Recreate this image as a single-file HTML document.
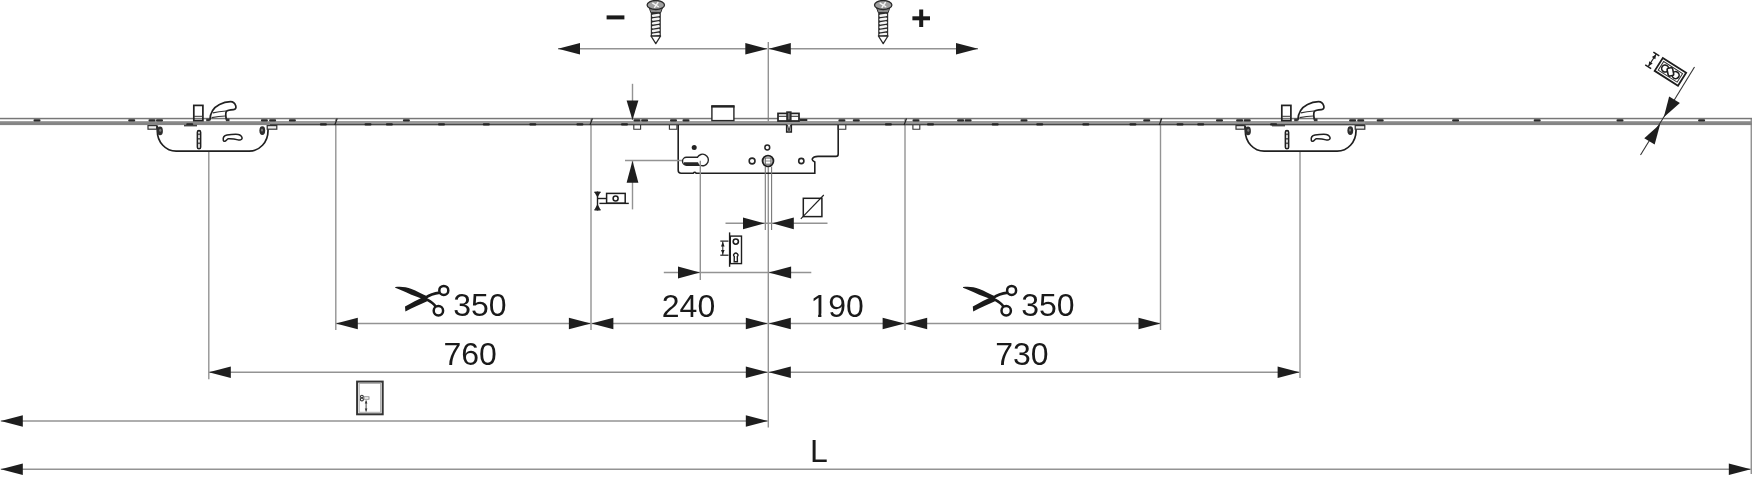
<!DOCTYPE html>
<html><head><meta charset="utf-8"><style>
html,body{margin:0;padding:0;background:#fff;}
text{will-change:transform;}
body{width:1752px;height:480px;overflow:hidden;}
svg{display:block;}
</style></head><body>
<svg width="1752" height="480" viewBox="0 0 1752 480">
<rect width="1752" height="480" fill="#fff"/>
<line x1="558" y1="48.8" x2="767.3" y2="48.8" stroke="#939393" stroke-width="1.45"/>
<polygon points="558.00,48.80 580.00,43.00 580.00,54.60" fill="#1e1e1e"/>
<polygon points="767.30,48.80 745.30,54.60 745.30,43.00" fill="#1e1e1e"/>
<line x1="768.8" y1="48.8" x2="978" y2="48.8" stroke="#939393" stroke-width="1.45"/>
<polygon points="768.80,48.80 790.80,43.00 790.80,54.60" fill="#1e1e1e"/>
<polygon points="978.00,48.80 956.00,54.60 956.00,43.00" fill="#1e1e1e"/>
<line x1="335.8" y1="323.5" x2="590.9" y2="323.5" stroke="#939393" stroke-width="1.45"/>
<polygon points="335.80,323.50 357.80,317.70 357.80,329.30" fill="#1e1e1e"/>
<polygon points="590.90,323.50 568.90,329.30 568.90,317.70" fill="#1e1e1e"/>
<line x1="591.4" y1="323.5" x2="767.8" y2="323.5" stroke="#939393" stroke-width="1.45"/>
<polygon points="591.40,323.50 613.40,317.70 613.40,329.30" fill="#1e1e1e"/>
<polygon points="767.80,323.50 745.80,329.30 745.80,317.70" fill="#1e1e1e"/>
<line x1="768.8" y1="323.5" x2="904.6" y2="323.5" stroke="#939393" stroke-width="1.45"/>
<polygon points="768.80,323.50 790.80,317.70 790.80,329.30" fill="#1e1e1e"/>
<polygon points="904.60,323.50 882.60,329.30 882.60,317.70" fill="#1e1e1e"/>
<line x1="905.2" y1="323.5" x2="1160.5" y2="323.5" stroke="#939393" stroke-width="1.45"/>
<polygon points="905.20,323.50 927.20,317.70 927.20,329.30" fill="#1e1e1e"/>
<polygon points="1160.50,323.50 1138.50,329.30 1138.50,317.70" fill="#1e1e1e"/>
<line x1="208.8" y1="372.2" x2="767.8" y2="372.2" stroke="#939393" stroke-width="1.45"/>
<polygon points="208.80,372.20 230.80,366.40 230.80,378.00" fill="#1e1e1e"/>
<polygon points="767.80,372.20 745.80,378.00 745.80,366.40" fill="#1e1e1e"/>
<line x1="768.8" y1="372.2" x2="1299.6" y2="372.2" stroke="#939393" stroke-width="1.45"/>
<polygon points="768.80,372.20 790.80,366.40 790.80,378.00" fill="#1e1e1e"/>
<polygon points="1299.60,372.20 1277.60,378.00 1277.60,366.40" fill="#1e1e1e"/>
<line x1="0.8" y1="421" x2="767.8" y2="421" stroke="#939393" stroke-width="1.45"/>
<polygon points="0.80,421.00 22.80,415.20 22.80,426.80" fill="#1e1e1e"/>
<polygon points="767.80,421.00 745.80,426.80 745.80,415.20" fill="#1e1e1e"/>
<line x1="0.8" y1="469.2" x2="1750.8" y2="469.2" stroke="#939393" stroke-width="1.45"/>
<polygon points="0.80,469.20 22.80,463.40 22.80,475.00" fill="#1e1e1e"/>
<polygon points="1750.80,469.20 1728.80,475.00 1728.80,463.40" fill="#1e1e1e"/>
<line x1="768.3" y1="41.9" x2="768.3" y2="125" stroke="#939393" stroke-width="1.4"/>
<line x1="768.3" y1="166" x2="768.3" y2="427.5" stroke="#939393" stroke-width="1.4"/>
<line x1="335.8" y1="119" x2="335.8" y2="330" stroke="#939393" stroke-width="1.4"/>
<line x1="591.0" y1="119" x2="591.0" y2="330" stroke="#939393" stroke-width="1.4"/>
<line x1="905.0" y1="119" x2="905.0" y2="330" stroke="#939393" stroke-width="1.4"/>
<line x1="1160.5" y1="119" x2="1160.5" y2="330" stroke="#939393" stroke-width="1.4"/>
<line x1="208.8" y1="151" x2="208.8" y2="379.3" stroke="#939393" stroke-width="1.4"/>
<line x1="1300.0" y1="151" x2="1300.0" y2="378" stroke="#939393" stroke-width="1.4"/>
<line x1="1751.3" y1="119" x2="1751.3" y2="474" stroke="#939393" stroke-width="1.5"/>
<rect x="0" y="117.8" width="1752" height="1.5" fill="#777"/>
<rect x="0" y="121.2" width="1752" height="3.9" fill="#8a8a8a"/>
<rect x="270" y="121.2" width="1095" height="2.7" fill="#9a9a9a"/>
<rect x="270" y="123.9" width="1095" height="1.4" fill="#4a4a4a"/>
<rect x="0" y="123.6" width="270" height="0.8" fill="#7a7a7a"/><rect x="1365" y="123.6" width="387" height="0.8" fill="#7a7a7a"/>
<rect x="33.5" y="119.2" width="7" height="2.4" rx="1" fill="#2a2a2a"/>
<rect x="128.2" y="119.2" width="7" height="2.4" rx="1" fill="#2a2a2a"/>
<rect x="148.5" y="119.2" width="7" height="2.4" rx="1" fill="#2a2a2a"/>
<rect x="156.0" y="119.2" width="7" height="2.4" rx="1" fill="#2a2a2a"/>
<rect x="260.9" y="119.2" width="7" height="2.4" rx="1" fill="#2a2a2a"/>
<rect x="269.1" y="119.2" width="7" height="2.4" rx="1" fill="#2a2a2a"/>
<rect x="288.9" y="119.2" width="7" height="2.4" rx="1" fill="#2a2a2a"/>
<rect x="402.9" y="119.2" width="7" height="2.4" rx="1" fill="#2a2a2a"/>
<rect x="633.5" y="119.2" width="7" height="2.4" rx="1" fill="#2a2a2a"/>
<rect x="641.1" y="119.2" width="7" height="2.4" rx="1" fill="#2a2a2a"/>
<rect x="670.0" y="119.2" width="7" height="2.4" rx="1" fill="#2a2a2a"/>
<rect x="682.5" y="119.2" width="7" height="2.4" rx="1" fill="#2a2a2a"/>
<rect x="838.4" y="119.2" width="7" height="2.4" rx="1" fill="#2a2a2a"/>
<rect x="852.8" y="119.2" width="7" height="2.4" rx="1" fill="#2a2a2a"/>
<rect x="912.5" y="119.2" width="7" height="2.4" rx="1" fill="#2a2a2a"/>
<rect x="957.1" y="119.2" width="7" height="2.4" rx="1" fill="#2a2a2a"/>
<rect x="964.6" y="119.2" width="7" height="2.4" rx="1" fill="#2a2a2a"/>
<rect x="1020.5" y="119.2" width="7" height="2.4" rx="1" fill="#2a2a2a"/>
<rect x="1143.2" y="119.2" width="7" height="2.4" rx="1" fill="#2a2a2a"/>
<rect x="1216.0" y="119.2" width="7" height="2.4" rx="1" fill="#2a2a2a"/>
<rect x="1236.1" y="119.2" width="7" height="2.4" rx="1" fill="#2a2a2a"/>
<rect x="1243.7" y="119.2" width="7" height="2.4" rx="1" fill="#2a2a2a"/>
<rect x="1349.1" y="119.2" width="7" height="2.4" rx="1" fill="#2a2a2a"/>
<rect x="1357.2" y="119.2" width="7" height="2.4" rx="1" fill="#2a2a2a"/>
<rect x="1376.7" y="119.2" width="7" height="2.4" rx="1" fill="#2a2a2a"/>
<rect x="1452.1" y="119.2" width="7" height="2.4" rx="1" fill="#2a2a2a"/>
<rect x="1533.7" y="119.2" width="7" height="2.4" rx="1" fill="#2a2a2a"/>
<rect x="1616.5" y="119.2" width="7" height="2.4" rx="1" fill="#2a2a2a"/>
<rect x="1698.1" y="119.2" width="7" height="2.4" rx="1" fill="#2a2a2a"/>
<rect x="186.2" y="123.3" width="7" height="2.2" rx="1" fill="#222"/>
<rect x="319.9" y="123.3" width="7" height="2.2" rx="1" fill="#222"/>
<rect x="364.5" y="123.3" width="7" height="2.2" rx="1" fill="#222"/>
<rect x="385.9" y="123.3" width="7" height="2.2" rx="1" fill="#222"/>
<rect x="438.0" y="123.3" width="7" height="2.2" rx="1" fill="#222"/>
<rect x="482.8" y="123.3" width="7" height="2.2" rx="1" fill="#222"/>
<rect x="529.3" y="123.3" width="7" height="2.2" rx="1" fill="#222"/>
<rect x="576.4" y="123.3" width="7" height="2.2" rx="1" fill="#222"/>
<rect x="621.0" y="123.3" width="7" height="2.2" rx="1" fill="#222"/>
<rect x="884.9" y="123.3" width="7" height="2.2" rx="1" fill="#222"/>
<rect x="927.0" y="123.3" width="7" height="2.2" rx="1" fill="#222"/>
<rect x="991.7" y="123.3" width="7" height="2.2" rx="1" fill="#222"/>
<rect x="1036.2" y="123.3" width="7" height="2.2" rx="1" fill="#222"/>
<rect x="1082.3" y="123.3" width="7" height="2.2" rx="1" fill="#222"/>
<rect x="1129.4" y="123.3" width="7" height="2.2" rx="1" fill="#222"/>
<rect x="1176.5" y="123.3" width="7" height="2.2" rx="1" fill="#222"/>
<rect x="1197.2" y="123.3" width="7" height="2.2" rx="1" fill="#222"/>
<rect x="1270.1" y="123.3" width="7" height="2.2" rx="1" fill="#222"/>
<line x1="334.8" y1="125" x2="337.2" y2="118.5" stroke="#222" stroke-width="1.2"/>
<line x1="590.0" y1="125" x2="592.4000000000001" y2="118.5" stroke="#222" stroke-width="1.2"/>
<line x1="904.0999999999999" y1="125" x2="906.5" y2="118.5" stroke="#222" stroke-width="1.2"/>
<line x1="1159.3" y1="125" x2="1161.7" y2="118.5" stroke="#222" stroke-width="1.2"/>
<g><path d="M157.3,125.5 L157.3,131 A18.8,20.2 0 0 0 176.1,151.2 L249.2,151.2 A18.8,20.2 0 0 0 268,131 L268,125.5" fill="none" stroke="#202020" stroke-width="1.7"/><rect x="148" y="125.6" width="8.6" height="3.6" fill="#eee" stroke="#333" stroke-width="1.2"/><rect x="267.2" y="125.6" width="9.6" height="3.6" fill="#eee" stroke="#333" stroke-width="1.2"/><ellipse cx="160" cy="130.9" rx="2.9" ry="4.4" fill="#2e2e2e"/><ellipse cx="160.3" cy="130.2" rx="1.1" ry="1.5" fill="#777"/><ellipse cx="262.3" cy="130.6" rx="2.9" ry="4.4" fill="#2e2e2e"/><ellipse cx="262" cy="130" rx="1.1" ry="1.5" fill="#777"/><rect x="193.8" y="105.4" width="9.1" height="15.2" fill="none" stroke="#202020" stroke-width="1.7"/><line x1="193.8" y1="116.3" x2="202.9" y2="116.3" stroke="#333" stroke-width="1"/><path d="M209.8,120.4 C210,113 213.5,107.5 219.5,104.5 C223,102.6 227,101.7 230.5,101.7 C233.5,101.7 235,103.5 235.8,106 C236.3,108 235.5,109.4 233.5,109.6 C230,109.9 227.5,110.2 226.3,111.3 C225.5,113 225.8,117 226.6,120.4" fill="none" stroke="#202020" stroke-width="1.7"/><path d="M212.9,112.9 C217,111.8 222,111.2 226,111" fill="none" stroke="#333" stroke-width="1.1"/><path d="M211.6,117.6 C216,116.8 221,116.2 225.4,116" fill="none" stroke="#333" stroke-width="1.1"/><rect x="206.2" y="118.6" width="3.5" height="2.6" fill="#333"/><rect x="226" y="118.6" width="3.5" height="2.6" fill="#333"/><rect x="184" y="124.8" width="13" height="1.6" fill="#444"/><rect x="197.4" y="130.6" width="3.2" height="18.2" rx="1.6" fill="#fff" stroke="#202020" stroke-width="1.6"/><rect x="198.2" y="133.5" width="1.6" height="1.6" fill="#333"/><rect x="198.2" y="138" width="1.6" height="1.6" fill="#333"/><rect x="198.2" y="142.5" width="1.6" height="1.6" fill="#333"/><path d="M223.3,140.3 C222.9,138 224,135.6 227,135 C231,134.4 235.5,134.3 238.2,134.4 C240.6,134.8 242.3,136.8 242.1,138.3 C241.8,139.9 239.6,140.4 238,139.9 C235,139 230.5,138.6 228.3,138.7 C226.8,139.1 226.2,141.2 224.6,141.3 C223.9,141.3 223.4,140.9 223.3,140.3 Z" fill="#fff" stroke="#202020" stroke-width="1.5" stroke-linejoin="round"/></g>
<g transform="translate(1088,0)"><path d="M157.3,125.5 L157.3,131 A18.8,20.2 0 0 0 176.1,151.2 L249.2,151.2 A18.8,20.2 0 0 0 268,131 L268,125.5" fill="none" stroke="#202020" stroke-width="1.7"/><rect x="148" y="125.6" width="8.6" height="3.6" fill="#eee" stroke="#333" stroke-width="1.2"/><rect x="267.2" y="125.6" width="9.6" height="3.6" fill="#eee" stroke="#333" stroke-width="1.2"/><ellipse cx="160" cy="130.9" rx="2.9" ry="4.4" fill="#2e2e2e"/><ellipse cx="160.3" cy="130.2" rx="1.1" ry="1.5" fill="#777"/><ellipse cx="262.3" cy="130.6" rx="2.9" ry="4.4" fill="#2e2e2e"/><ellipse cx="262" cy="130" rx="1.1" ry="1.5" fill="#777"/><rect x="193.8" y="105.4" width="9.1" height="15.2" fill="none" stroke="#202020" stroke-width="1.7"/><line x1="193.8" y1="116.3" x2="202.9" y2="116.3" stroke="#333" stroke-width="1"/><path d="M209.8,120.4 C210,113 213.5,107.5 219.5,104.5 C223,102.6 227,101.7 230.5,101.7 C233.5,101.7 235,103.5 235.8,106 C236.3,108 235.5,109.4 233.5,109.6 C230,109.9 227.5,110.2 226.3,111.3 C225.5,113 225.8,117 226.6,120.4" fill="none" stroke="#202020" stroke-width="1.7"/><path d="M212.9,112.9 C217,111.8 222,111.2 226,111" fill="none" stroke="#333" stroke-width="1.1"/><path d="M211.6,117.6 C216,116.8 221,116.2 225.4,116" fill="none" stroke="#333" stroke-width="1.1"/><rect x="206.2" y="118.6" width="3.5" height="2.6" fill="#333"/><rect x="226" y="118.6" width="3.5" height="2.6" fill="#333"/><rect x="184" y="124.8" width="13" height="1.6" fill="#444"/><rect x="197.4" y="130.6" width="3.2" height="18.2" rx="1.6" fill="#fff" stroke="#202020" stroke-width="1.6"/><rect x="198.2" y="133.5" width="1.6" height="1.6" fill="#333"/><rect x="198.2" y="138" width="1.6" height="1.6" fill="#333"/><rect x="198.2" y="142.5" width="1.6" height="1.6" fill="#333"/><path d="M223.3,140.3 C222.9,138 224,135.6 227,135 C231,134.4 235.5,134.3 238.2,134.4 C240.6,134.8 242.3,136.8 242.1,138.3 C241.8,139.9 239.6,140.4 238,139.9 C235,139 230.5,138.6 228.3,138.7 C226.8,139.1 226.2,141.2 224.6,141.3 C223.9,141.3 223.4,140.9 223.3,140.3 Z" fill="#fff" stroke="#202020" stroke-width="1.5" stroke-linejoin="round"/></g>
<path d="M678.2,125 L678.2,170.3 Q678.2,173.3 681.2,173.3 L693.2,173.3 Q694.7,171.3 696.2,173.3 L814.8,173.3 L814.8,162 Q812,160.5 812.2,159 Q813.5,156.4 818,156.4 L836,156.4 Q838.2,156.4 838.2,154 L838.2,125" fill="none" stroke="#202020" stroke-width="1.6"/>
<path d="M633.8,125 L633.8,129.3 L640.6,129.3 L640.6,125" fill="none" stroke="#333" stroke-width="1.1"/>
<path d="M669.4,125 L669.4,129.3 L676.9,129.3 L676.9,125" fill="none" stroke="#333" stroke-width="1.1"/>
<path d="M838.2,125 L838.2,129.3 L845.8,129.3 L845.8,125" fill="none" stroke="#333" stroke-width="1.1"/>
<path d="M912.9,125 L912.9,129.3 L919.8,129.3 L919.8,125" fill="none" stroke="#333" stroke-width="1.1"/>
<rect x="711.9" y="106.2" width="22" height="14.4" fill="#fff" stroke="#262626" stroke-width="1.4"/>
<rect x="711.3" y="105.2" width="23.2" height="2.4" fill="#222"/>
<rect x="778" y="113.4" width="21" height="7.6" fill="#fff" stroke="#222" stroke-width="1.7"/>
<line x1="778" y1="116.3" x2="799" y2="116.3" stroke="#333" stroke-width="1.1"/>
<rect x="786.2" y="111.3" width="5.4" height="10.2" fill="#2a2a2a"/>
<rect x="788.4" y="113" width="1" height="6.5" fill="#aaa"/>
<path d="M786.7,124.5 L786.7,132 L791.3,132 L791.3,124.5" fill="#fff" stroke="#222" stroke-width="1.6"/>
<path d="M787.5,125 L789,131 L790.5,125" fill="none" stroke="#333" stroke-width="1"/>
<rect x="799.5" y="119" width="7.8" height="2" fill="#2a2a2a"/>
<circle cx="694.2" cy="147.5" r="2.5" fill="#222"/>
<circle cx="767.3" cy="147.5" r="2.4" fill="none" stroke="#262626" stroke-width="1.5"/>
<circle cx="752.1" cy="161" r="2.9" fill="none" stroke="#262626" stroke-width="1.6"/>
<circle cx="801.3" cy="161" r="2.6" fill="none" stroke="#262626" stroke-width="1.6"/>
<circle cx="768" cy="161" r="5.4" fill="#fff" stroke="#202020" stroke-width="1.9"/>
<rect x="765.2" y="158" width="5.8" height="6.2" fill="none" stroke="#555" stroke-width="1"/>
<line x1="765.2" y1="161" x2="771" y2="161" stroke="#777" stroke-width="0.8"/>
<path d="M686.5,157.2 L697.5,157.2 A5.8,5.8 0 1 1 700.5,165.4 L686.5,165.2 A4,4 0 0 1 686.5,157.2 Z" fill="#fff" stroke="#262626" stroke-width="1.4"/>
<path d="M684,162.3 L698,162.3 L699.5,165.2 L686,165.2 Q683,164.8 684,162.3 Z" fill="#262626"/>
<line x1="765.3" y1="166.5" x2="765.3" y2="230" stroke="#777" stroke-width="1.1"/>
<line x1="771.6" y1="166.5" x2="771.6" y2="230" stroke="#777" stroke-width="1.1"/>
<line x1="700.3" y1="160.8" x2="700.3" y2="280" stroke="#939393" stroke-width="1.4"/>
<line x1="632.5" y1="83.8" x2="632.5" y2="120" stroke="#939393" stroke-width="1.4"/>
<polygon points="632.50,120.00 626.60,100.50 638.40,100.50" fill="#1e1e1e"/>
<line x1="632.5" y1="160.5" x2="632.5" y2="209.4" stroke="#939393" stroke-width="1.4"/>
<polygon points="632.50,160.70 638.40,182.70 626.60,182.70" fill="#1e1e1e"/>
<line x1="625" y1="160.5" x2="682" y2="160.5" stroke="#939393" stroke-width="1.45"/>
<line x1="725.5" y1="223.3" x2="827.5" y2="223.3" stroke="#939393" stroke-width="1.45"/>
<polygon points="764.50,223.30 743.00,229.20 743.00,217.40" fill="#1e1e1e"/>
<polygon points="772.30,223.30 793.80,217.40 793.80,229.20" fill="#1e1e1e"/>
<line x1="663.8" y1="272.5" x2="811.3" y2="272.5" stroke="#939393" stroke-width="1.45"/>
<polygon points="700.00,272.50 678.00,278.40 678.00,266.60" fill="#1e1e1e"/>
<polygon points="768.60,272.50 791.10,266.60 791.10,278.40" fill="#1e1e1e"/>
<line x1="597.5" y1="191.5" x2="597.5" y2="210.5" stroke="#1e1e1e" stroke-width="1.4"/>
<line x1="594.4" y1="192.3" x2="600.6" y2="192.3" stroke="#1e1e1e" stroke-width="1.4"/>
<line x1="594.4" y1="209.8" x2="600.6" y2="209.8" stroke="#1e1e1e" stroke-width="1.4"/>
<polygon points="594.6,192.5 600.4,192.5 597.5,197.5" fill="#1e1e1e"/>
<polygon points="594.6,209.5 600.4,209.5 597.5,204" fill="#1e1e1e"/>
<line x1="597.5" y1="198.5" x2="606.6" y2="198.5" stroke="#1e1e1e" stroke-width="1.4"/>
<rect x="606.6" y="193.4" width="18.6" height="9.8" fill="none" stroke="#1e1e1e" stroke-width="1.5"/>
<circle cx="615.6" cy="198.4" r="2.5" fill="none" stroke="#1e1e1e" stroke-width="1.5"/>
<line x1="599.4" y1="203.4" x2="628.8" y2="203.4" stroke="#1e1e1e" stroke-width="1.4"/>
<rect x="803.3" y="198.3" width="18.6" height="18.3" fill="none" stroke="#1e1e1e" stroke-width="1.5"/>
<line x1="800.8" y1="218.8" x2="823.8" y2="195" stroke="#1e1e1e" stroke-width="1.1"/>
<line x1="729.6" y1="232.4" x2="729.6" y2="266.8" stroke="#1e1e1e" stroke-width="1.4"/>
<rect x="730.3" y="236.1" width="11.2" height="27.5" fill="none" stroke="#1e1e1e" stroke-width="1.4"/>
<circle cx="735.8" cy="241.6" r="2.6" fill="none" stroke="#1e1e1e" stroke-width="1.6"/>
<path d="M734.2,261.8 L734.3,256.6 A2.1,2.1 0 1 1 737.3,256.6 L737.4,261.8 Z" fill="none" stroke="#1e1e1e" stroke-width="1.4"/>
<line x1="720.3" y1="241.1" x2="728.5" y2="241.1" stroke="#1e1e1e" stroke-width="1.2"/>
<line x1="720.3" y1="255.2" x2="728.5" y2="255.2" stroke="#1e1e1e" stroke-width="1.2"/>
<line x1="722.8" y1="241.5" x2="722.8" y2="255" stroke="#1e1e1e" stroke-width="1"/>
<polygon points="721,246.5 724.6,246.5 722.8,241.8" fill="#1e1e1e"/>
<polygon points="721,250 724.6,250 722.8,254.6" fill="#1e1e1e"/>
<rect x="357.1" y="381.6" width="25.6" height="32.7" fill="none" stroke="#333" stroke-width="2"/>
<rect x="359.2" y="383.4" width="21.4" height="28.9" fill="none" stroke="#aaa" stroke-width="1"/>
<circle cx="361.9" cy="396.6" r="1.4" fill="none" stroke="#333" stroke-width="1.1"/><circle cx="361.9" cy="399.4" r="1.5" fill="none" stroke="#333" stroke-width="1.1"/>
<rect x="364" y="396.8" width="5" height="2.4" fill="none" stroke="#777" stroke-width="0.8"/>
<line x1="366.1" y1="400.5" x2="366.1" y2="411.5" stroke="#333" stroke-width="0.9"/>
<polygon points="364.8,403.5 367.4,403.5 366.1,400.5" fill="#333"/>
<polygon points="364.8,408.5 367.4,408.5 366.1,411.5" fill="#333"/>
<rect x="650.8" y="11.5" width="10" height="25" fill="#2a2a2a"/><rect x="651.8" y="14.100000000000001" width="8" height="2.5" rx="1.2" fill="#f4f4f4" transform="rotate(-9 655.8 15.3)"/><rect x="651.8" y="17.900000000000002" width="8" height="2.5" rx="1.2" fill="#f4f4f4" transform="rotate(-9 655.8 19.1)"/><rect x="651.8" y="21.7" width="8" height="2.5" rx="1.2" fill="#f4f4f4" transform="rotate(-9 655.8 22.9)"/><rect x="651.8" y="25.5" width="8" height="2.5" rx="1.2" fill="#f4f4f4" transform="rotate(-9 655.8 26.7)"/><rect x="651.8" y="29.3" width="8" height="2.5" rx="1.2" fill="#f4f4f4" transform="rotate(-9 655.8 30.5)"/><rect x="651.8" y="33.099999999999994" width="8" height="2.5" rx="1.2" fill="#f4f4f4" transform="rotate(-9 655.8 34.3)"/><path d="M651.0,36 L655.8,43.6 L660.5999999999999,36 Z" fill="#fff" stroke="#2a2a2a" stroke-width="1.3" stroke-linejoin="round"/><path d="M649.3,8 L662.3,8 L660.8,12.5 L650.8,12.5 Z" fill="#8a8a8a" stroke="#333" stroke-width="1"/><ellipse cx="655.8" cy="5" rx="8.7" ry="4.5" fill="#a0a0a0" stroke="#2a2a2a" stroke-width="1.3"/><path d="M652.3,2.8 L658.8,7 M658.3,2 L654.3,7.8" stroke="#f4f4f4" stroke-width="1.4"/>
<rect x="878.2" y="11.5" width="10" height="25" fill="#2a2a2a"/><rect x="879.2" y="14.100000000000001" width="8" height="2.5" rx="1.2" fill="#f4f4f4" transform="rotate(-9 883.2 15.3)"/><rect x="879.2" y="17.900000000000002" width="8" height="2.5" rx="1.2" fill="#f4f4f4" transform="rotate(-9 883.2 19.1)"/><rect x="879.2" y="21.7" width="8" height="2.5" rx="1.2" fill="#f4f4f4" transform="rotate(-9 883.2 22.9)"/><rect x="879.2" y="25.5" width="8" height="2.5" rx="1.2" fill="#f4f4f4" transform="rotate(-9 883.2 26.7)"/><rect x="879.2" y="29.3" width="8" height="2.5" rx="1.2" fill="#f4f4f4" transform="rotate(-9 883.2 30.5)"/><rect x="879.2" y="33.099999999999994" width="8" height="2.5" rx="1.2" fill="#f4f4f4" transform="rotate(-9 883.2 34.3)"/><path d="M878.4000000000001,36 L883.2,43.6 L888.0,36 Z" fill="#fff" stroke="#2a2a2a" stroke-width="1.3" stroke-linejoin="round"/><path d="M876.7,8 L889.7,8 L888.2,12.5 L878.2,12.5 Z" fill="#8a8a8a" stroke="#333" stroke-width="1"/><ellipse cx="883.2" cy="5" rx="8.7" ry="4.5" fill="#a0a0a0" stroke="#2a2a2a" stroke-width="1.3"/><path d="M879.7,2.8 L886.2,7 M885.7,2 L881.7,7.8" stroke="#f4f4f4" stroke-width="1.4"/>
<rect x="606.6" y="15.4" width="17.8" height="4" fill="#1a1a1a"/>
<rect x="912.4" y="16.3" width="17.6" height="4" fill="#1a1a1a"/>
<rect x="919.2" y="9.5" width="4" height="17.5" fill="#1a1a1a"/>
<g transform="translate(0,0)"><path d="M395.2,287.1 C400,286.1 406,286.8 411.5,289 C416.5,291 421.5,293.5 427.8,296.6 L426.5,300.3 C421,298.6 413,295.6 406,292.3 C401,290 397.5,288.5 395.2,287.7 Z" fill="#1a1a1a"/><path d="M405,306.5 C411,303 418,299.5 425,296.2 L428.8,300.6 C421,304 412,308 405.4,311.4 Z" fill="#1a1a1a"/><path d="M425.5,297.8 C429.5,294.8 434,293.4 440,292.6" fill="none" stroke="#1a1a1a" stroke-width="2.6"/><path d="M426.5,299.3 C430.5,301.5 433.5,303 435.5,306.5" fill="none" stroke="#1a1a1a" stroke-width="2.6"/><circle cx="443.8" cy="290.4" r="4.5" fill="none" stroke="#1a1a1a" stroke-width="2.5"/><circle cx="438.4" cy="310.8" r="4.7" fill="none" stroke="#1a1a1a" stroke-width="2.5"/></g>
<g transform="translate(567.8,0)"><path d="M395.2,287.1 C400,286.1 406,286.8 411.5,289 C416.5,291 421.5,293.5 427.8,296.6 L426.5,300.3 C421,298.6 413,295.6 406,292.3 C401,290 397.5,288.5 395.2,287.7 Z" fill="#1a1a1a"/><path d="M405,306.5 C411,303 418,299.5 425,296.2 L428.8,300.6 C421,304 412,308 405.4,311.4 Z" fill="#1a1a1a"/><path d="M425.5,297.8 C429.5,294.8 434,293.4 440,292.6" fill="none" stroke="#1a1a1a" stroke-width="2.6"/><path d="M426.5,299.3 C430.5,301.5 433.5,303 435.5,306.5" fill="none" stroke="#1a1a1a" stroke-width="2.6"/><circle cx="443.8" cy="290.4" r="4.5" fill="none" stroke="#1a1a1a" stroke-width="2.5"/><circle cx="438.4" cy="310.8" r="4.7" fill="none" stroke="#1a1a1a" stroke-width="2.5"/></g>
<line x1="1640.5" y1="155" x2="1694.5" y2="67" stroke="#333" stroke-width="1.1"/>
<polygon points="1663.80,117.30 1669.15,96.53 1679.89,103.12" fill="#1e1e1e"/>
<polygon points="1660.20,123.90 1654.68,144.56 1644.28,138.18" fill="#1e1e1e"/>
<g transform="translate(1670.4,71.85) rotate(32.4)"><rect x="-13.8" y="-7.6" width="27.6" height="15.2" fill="#fff" stroke="#1e1e1e" stroke-width="1.8"/><rect x="-11.2" y="-5.1" width="22.4" height="10.2" fill="none" stroke="#333" stroke-width="1"/><circle cx="-6.2" cy="0" r="3.5" fill="none" stroke="#1e1e1e" stroke-width="1.6"/><circle cx="6.2" cy="0" r="3.5" fill="none" stroke="#1e1e1e" stroke-width="1.6"/><rect x="-2.8" y="-4" width="5.6" height="8" rx="1.6" fill="#fff" stroke="#1e1e1e" stroke-width="1.6" transform="rotate(-44)"/><line x1="-21.5" y1="-7.4" x2="-21.5" y2="7.4" stroke="#1e1e1e" stroke-width="1.1"/><line x1="-25" y1="-7.6" x2="-18" y2="-7.6" stroke="#1e1e1e" stroke-width="1.5"/><line x1="-25" y1="7.6" x2="-18" y2="7.6" stroke="#1e1e1e" stroke-width="1.5"/><polygon points="-23.6,-2.5 -19.4,-2.5 -21.5,-7" fill="#1e1e1e"/><polygon points="-23.6,2.5 -19.4,2.5 -21.5,7" fill="#1e1e1e"/></g>
<text x="453.2" y="316.3" font-family="Liberation Sans, sans-serif" font-size="32" fill="#1a1a1a">350</text>
<text x="661.8" y="316.8" font-family="Liberation Sans, sans-serif" font-size="32" fill="#1a1a1a">240</text>
<text x="810.4" y="316.8" font-family="Liberation Sans, sans-serif" font-size="32" fill="#1a1a1a">190</text>
<text x="1021.2" y="316.3" font-family="Liberation Sans, sans-serif" font-size="32" fill="#1a1a1a">350</text>
<text x="443.5" y="364.9" font-family="Liberation Sans, sans-serif" font-size="32" fill="#1a1a1a">760</text>
<text x="995.2" y="364.9" font-family="Liberation Sans, sans-serif" font-size="32" fill="#1a1a1a">730</text>
<text x="809.9" y="462.3" font-family="Liberation Sans, sans-serif" font-size="32" fill="#1a1a1a">L</text>
<rect x="812" y="313.7" width="6.1" height="3.8" fill="#fff"/><rect x="821.4" y="313.7" width="6.4" height="3.8" fill="#fff"/>
</svg>
</body></html>
